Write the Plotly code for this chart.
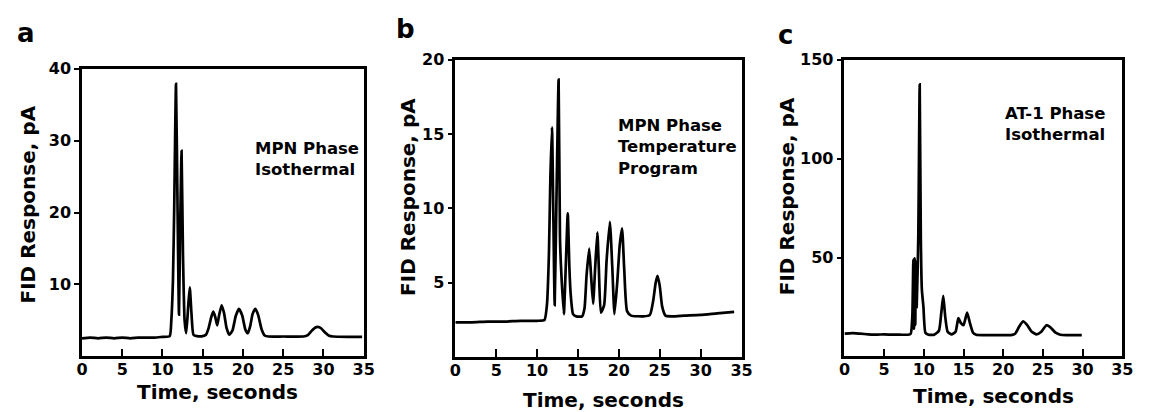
import plotly.graph_objects as go

# ---------------- data ----------------
# Panel a: MPN phase, isothermal
a_time = [0, 1, 2, 3, 4, 5, 6, 7, 8, 9, 10, 10.9, 11.1, 11.3, 11.45, 11.68, 11.88,
          12.05, 12.2, 12.37, 12.55, 12.75, 12.95, 13.2, 13.39, 13.6, 13.85, 14.3,
          15.0, 15.4, 15.75, 16.05, 16.3, 16.55, 16.8, 17.05, 17.35, 17.65, 17.95,
          18.3, 18.7, 19.1, 19.5, 19.9, 20.3, 20.6, 20.9, 21.2, 21.55, 21.9, 22.3,
          22.7, 23.2, 25, 27.5, 28.0, 28.5, 29.0, 29.3, 29.7, 30.2, 30.7, 31.2, 33, 34.8]
a_resp = [2.5, 2.6, 2.5, 2.6, 2.5, 2.6, 2.5, 2.6, 2.6, 2.6, 2.7, 2.8, 5.0, 10.5, 20, 37.9, 20,
          5.8, 18, 28.6, 14, 5, 3.2, 7, 9.6, 6, 3.0, 2.8,
          2.8, 3.0, 4.0, 5.4, 6.2, 5.5, 4.3, 5.8, 7.1, 6.0, 4.0,
          3.0, 3.6, 5.6, 6.6, 5.7, 3.7, 3.2, 4.2, 5.9, 6.6, 5.7, 3.8,
          2.9, 2.75, 2.75, 2.75, 2.9, 3.5, 4.0, 4.1, 3.9, 3.3, 2.85, 2.75, 2.7, 2.7]

# Panel b: MPN phase, temperature program
b_time = [0, 2, 4, 6, 8, 10, 10.9, 11.2, 11.45, 11.62, 11.82, 12.0, 12.15, 12.35, 12.63,
          12.8, 12.95, 13.27, 13.5, 13.75, 13.95, 14.1, 14.4, 14.8, 15.5, 15.8, 16.05,
          16.37, 16.6, 16.85, 17.1, 17.37, 17.55, 17.8, 18.2, 18.5, 18.9, 19.2, 19.46,
          19.8, 20.1, 20.39, 20.65, 21.0, 21.5, 23.0, 23.8, 24.2, 24.5, 24.73, 25.0,
          25.3, 25.7, 26.5, 28, 30, 32, 34.1]
b_resp = [2.35, 2.35, 2.4, 2.4, 2.45, 2.45, 2.5, 3.5, 7, 12, 15.46, 9, 3.5, 10, 18.66,
          8, 5.8, 2.9, 6, 9.67, 6, 4.3, 2.9, 2.75, 2.75, 3.3, 5.5,
          7.3, 5.5, 3.6, 6, 8.4, 6, 3.0, 3.5, 6.5, 9.1, 6, 2.9,
          5, 7.5, 8.66, 6, 3.1, 2.8, 2.75, 2.85, 3.8, 5.0, 5.48, 4.8,
          3.4, 2.8, 2.75, 2.8, 2.85, 2.95, 3.05]

# Panel c: AT-1 phase, isothermal
c_time = [0, 1, 2, 3, 4, 5, 6, 7, 8, 8.35, 8.55, 8.68, 8.76, 8.84, 8.92, 9.0, 9.1, 9.3,
          9.48, 9.62, 9.75, 9.95, 10.2, 10.6, 11.3, 11.9, 12.2, 12.45, 12.7, 13.0, 13.5,
          14.0, 14.35, 14.65, 15.0, 15.45, 15.8, 16.2, 16.6, 17.5, 19, 21, 21.5, 22.0,
          22.5, 23.0, 23.6, 24.2, 24.8, 25.45, 26.0, 26.6, 27.2, 28, 29.9]
c_resp = [11.5, 11.8, 11.5, 11.2, 11.0, 11.2, 11.0, 11.0, 11.0, 11.5, 20, 49, 14, 49.6, 16, 48, 25, 60,
          137.6, 60, 34, 25, 12, 11, 11, 13, 22, 30.6, 20, 12.5, 11.2,
          12.5, 19.4, 17, 15.8, 22.2, 17, 12, 11, 10.8, 10.8, 10.8, 11.5, 15,
          17.8, 16, 12.5, 11.2, 12.5, 15.8, 14.5, 12, 11, 10.8, 10.8]

panel_letters = ["a", "b", "c"]
panel_notes = ["MPN Phase<br>Isothermal",
               "MPN Phase<br>Temperature<br>Program",
               "AT-1 Phase<br>Isothermal"]
y_ranges = [[0, 40], [0, 20], [0, 150]]
y_ticks = [[10, 20, 30, 40], [5, 10, 15, 20], [50, 100, 150]]
x_ticks = [0, 5, 10, 15, 20, 25, 30, 35]
x_title = "Time, seconds"
y_title = "FID Response, pA"

# ---------------- layout geometry (screen pixels) ----------------
# the page body has an 8 px margin, so the figure is drawn 8 px in from the corner
OFF = 8
W, H = 1150 - OFF, 412 - OFF
FONT = "DejaVu Sans"
boxes = [  # left, right, top, bottom (screen px)
    (77, 363, 61, 355),
    (456, 746.5, 51.7, 356),
    (851, 1133, 51.7, 355.2),
]

def px(x):
    return (x - OFF) / W

def py(y):
    return 1 - (y - OFF) / H

fig = go.Figure()
series = [(a_time, a_resp), (b_time, b_resp), (c_time, c_resp)]
for i, (t, r) in enumerate(series):
    assert len(t) == len(r)
    sfx = "" if i == 0 else str(i + 1)
    fig.add_trace(go.Scatter(x=t, y=r, mode="lines", xaxis="x" + sfx, yaxis="y" + sfx,
                             line=dict(color="black", width=2.7, shape="spline", smoothing=0.5),
                             showlegend=False, hoverinfo="skip"))

axis_common = dict(showline=True, linecolor="black", linewidth=2.5, mirror=True,
                   showgrid=False, zeroline=False, ticks="outside", tickcolor="black",
                   tickwidth=2, tickfont=dict(family=FONT, size=16, color="black", weight="bold"))

layout = dict(width=W, height=H, margin=dict(l=0, r=0, t=0, b=0),
              paper_bgcolor="white", plot_bgcolor="white", showlegend=False)
for i, (l, r, t, b) in enumerate(boxes):
    sfx = "" if i == 0 else str(i + 1)
    layout["xaxis" + sfx] = dict(axis_common, domain=[px(l), px(r)], range=[0, 35],
                                 tickvals=x_ticks, ticks="inside", ticklen=8,
                                 anchor="y" + sfx, ticklabelstandoff=-3)
    layout["yaxis" + sfx] = dict(axis_common, domain=[py(b), py(t)], range=y_ranges[i],
                                 tickvals=y_ticks[i], ticklen=5, anchor="x" + sfx)
fig.update_layout(**layout)

ann = []
letter_pos = [(20, 24), (405, 20), (791, 26)]
ytitle_pos = [(22, 200), (408, 192), (793, 191)]
xtitle_pos = [(215, 392), (606, 400), (1002, 396)]
note_pos = [(251, 153), (619, 141), (1012, 117)]
for i in range(3):
    ann.append(dict(text=panel_letters[i], x=px(letter_pos[i][0]), y=py(letter_pos[i][1]),
                    xref="paper", yref="paper", showarrow=False, xanchor="center", yanchor="middle",
                    font=dict(family=FONT, size=26, color="black", weight="bold")))
    ann.append(dict(text=y_title, x=px(ytitle_pos[i][0]), y=py(ytitle_pos[i][1]),
                    xref="paper", yref="paper", showarrow=False, textangle=-90,
                    xanchor="center", yanchor="middle",
                    font=dict(family=FONT, size=20, color="black", weight="bold")))
    ann.append(dict(text=x_title, x=px(xtitle_pos[i][0]), y=py(xtitle_pos[i][1]),
                    xref="paper", yref="paper", showarrow=False,
                    xanchor="center", yanchor="middle",
                    font=dict(family=FONT, size=20, color="black", weight="bold")))
    ann.append(dict(text=panel_notes[i], x=px(note_pos[i][0]), y=py(note_pos[i][1]),
                    xref="paper", yref="paper", showarrow=False, align="left",
                    xanchor="left", yanchor="middle",
                    font=dict(family=FONT, size=16.5, color="black", weight="bold")))
fig.update_layout(annotations=ann)

fig.write_html("out.html")
